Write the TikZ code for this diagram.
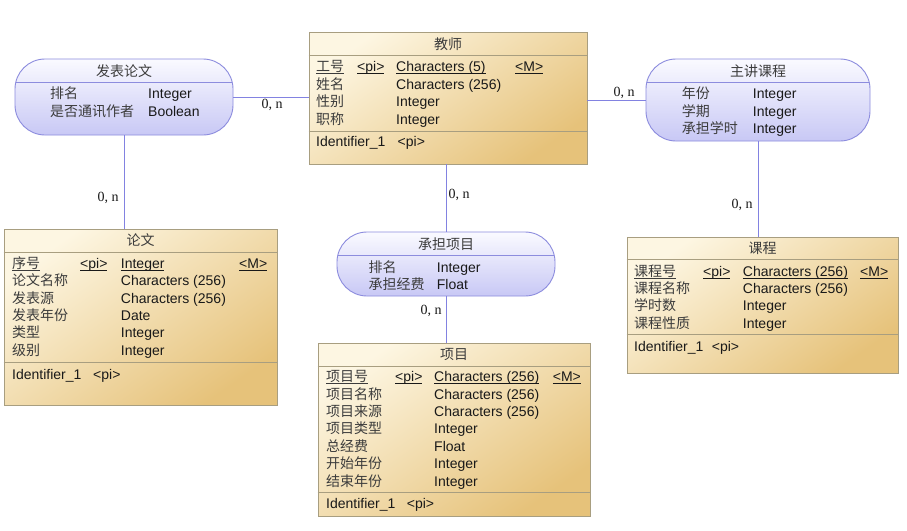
\documentclass[tikz,border=0pt]{standalone}
\usepackage{fontspec}
\setmainfont{Liberation Sans}
\newfontfamily\cjk{Noto Sans CJK SC}
\newfontfamily\serifnum{Liberation Serif}
\newcommand\fs{\fontsize{14}{17}\selectfont}
\newcommand\keyul[1]{\underline{\raisebox{0pt}[\height][0.3pt]{#1}}}
\definecolor{entA}{RGB}{253,246,226}
\definecolor{entB}{RGB}{230,194,122}
\definecolor{entLine}{RGB}{168,158,128}
\definecolor{relA}{RGB}{250,250,255}
\definecolor{relB}{RGB}{200,200,245}
\definecolor{relLine}{RGB}{140,140,222}
\definecolor{linkc}{RGB}{130,130,225}
\definecolor{txt}{RGB}{25,25,25}
\definecolor{cjktxt}{RGB}{60,60,60}
\tikzset{
  lt/.style={anchor=base west, inner sep=0pt, text=txt, font=\fs},
  cn/.style={anchor=base west, inner sep=0pt, text=cjktxt, font=\fs\cjk},
  ttl/.style={anchor=center, inner sep=0pt, text=cjktxt, font=\fs\cjk},
  entity/.style={rectangle, draw=entLine, line width=0.9pt, top color=entA, bottom color=entB, shading angle=35, inner sep=0pt},
  rel/.style={rectangle, rounded corners=30pt, draw=relLine, line width=0.9pt, top color=relA, bottom color=relB, inner sep=0pt},
  entsep/.style={draw=entLine, line width=0.9pt},
  relsep/.style={draw=relLine, line width=0.9pt},
  link/.style={draw=linkc, line width=0.9pt},
  card/.style={anchor=center, inner sep=0pt, text=txt, font=\fs\serifnum}
}
\begin{document}
\begin{tikzpicture}[x=1pt,y=-1pt]
\useasboundingbox (0,0) rectangle (907,530);
\fill[white] (0,0) rectangle (907,530);

% ---------- shapes ----------
\node[entity, minimum width=278pt, minimum height=132pt] (teacher) at (448,98) {};
\node[entity, minimum width=273pt, minimum height=176pt] (paper) at (140.5,317) {};
\node[entity, minimum width=272pt, minimum height=173pt] (project) at (454,429.5) {};
\node[entity, minimum width=271pt, minimum height=136pt] (course) at (762.5,305) {};
\node[rel, minimum width=218pt, minimum height=76pt] (fbl) at (124,97) {};
\node[rel, minimum width=224pt, minimum height=82pt] (zj) at (758,100) {};
\node[rel, minimum width=218pt, minimum height=64pt] (cd) at (446,264) {};

% ---------- connectors ----------
\draw[link] (fbl.east) -- (fbl.east -| teacher.west);
\draw[link] (teacher.east |- zj.west) -- (zj.west);
\draw[link] (fbl.south) -- (fbl.south |- paper.north);
\draw[link] (zj.south) -- (zj.south |- course.north);
\draw[link] (cd.north |- teacher.south) -- (cd.north);
\draw[link] (cd.south) -- (cd.south |- project.north);

\node[card] (c1) at (272,105) {0, n};
\node[card] (c2) at (624,93) {0, n};
\node[card] (c3) at (108,198) {0, n};
\node[card] (c4) at (459,195) {0, n};
\node[card] (c5) at (431,311) {0, n};
\node[card] (c6) at (742,205) {0, n};

% ---------- separators ----------
\draw[entsep] (teacher.west |- 0,55) -- (teacher.east |- 0,55);
\draw[entsep] (teacher.west |- 0,131) -- (teacher.east |- 0,131);
\draw[entsep] (paper.west |- 0,252) -- (paper.east |- 0,252);
\draw[entsep] (paper.west |- 0,362) -- (paper.east |- 0,362);
\draw[entsep] (project.west |- 0,366) -- (project.east |- 0,366);
\draw[entsep] (project.west |- 0,492) -- (project.east |- 0,492);
\draw[entsep] (course.west |- 0,259) -- (course.east |- 0,259);
\draw[entsep] (course.west |- 0,334) -- (course.east |- 0,334);
\draw[relsep] ([xshift=1pt]fbl.west |- 0,82) -- ([xshift=-1pt]fbl.east |- 0,82);
\draw[relsep] ([xshift=1pt]zj.west |- 0,82) -- ([xshift=-1pt]zj.east |- 0,82);
\draw[relsep] ([xshift=1pt]cd.west |- 0,255) -- ([xshift=-1pt]cd.east |- 0,255);

% ---------- 教师 ----------
\node[ttl] (t-title) at (448,44) {教师};
\node[cn] (t-k) at (316,71.5) {\keyul{工号}};
\node[lt] (t-kpi) at (357,71.5) {\keyul{<pi>}};
\node[lt] (t-kt) at (396,71.5) {\keyul{Characters (5)}};
\node[lt] (t-km) at (515,71.5) {\keyul{<M>}};
\foreach \y/\n/\t [count=\i] in {89/姓名/Characters (256), 106.5/性别/Integer, 124/职称/Integer}{
  \node[cn] (t-n\i) at (316,\y) {\n};
  \node[lt] (t-t\i) at (396,\y) {\t};
}
\node[lt] (t-id) at (316,146.5) {Identifier\_1};
\node[lt] (t-idpi) at (397.5,146.5) {<pi>};

% ---------- 论文 ----------
\node[ttl] (p-title) at (140.5,240.5) {论文};
\node[cn] (p-k) at (12,268.3) {\keyul{序号}};
\node[lt] (p-kpi) at (80,268.3) {\keyul{<pi>}};
\node[lt] (p-kt) at (120.7,268.3) {\keyul{Integer}};
\node[lt] (p-km) at (239,268.3) {\keyul{<M>}};
\foreach \y/\n/\t [count=\i] in {285.7/论文名称/Characters (256), 303.1/发表源/Characters (256), 320.5/发表年份/Date, 337.9/类型/Integer, 355.3/级别/Integer}{
  \node[cn] (p-n\i) at (12,\y) {\n};
  \node[lt] (p-t\i) at (120.7,\y) {\t};
}
\node[lt] (p-id) at (12,379) {Identifier\_1};
\node[lt] (p-idpi) at (93,379) {<pi>};

% ---------- 项目 ----------
\node[ttl] (j-title) at (454,354.5) {项目};
\node[cn] (j-k) at (326,381.7) {\keyul{项目号}};
\node[lt] (j-kpi) at (395,381.7) {\keyul{<pi>}};
\node[lt] (j-kt) at (434,381.7) {\keyul{Characters (256)}};
\node[lt] (j-km) at (552.7,381.7) {\keyul{<M>}};
\foreach \y/\n/\t [count=\i] in {399.1/项目名称/Characters (256), 416.5/项目来源/Characters (256), 433.9/项目类型/Integer, 451.3/总经费/Float, 468.7/开始年份/Integer, 486.1/结束年份/Integer}{
  \node[cn] (j-n\i) at (326,\y) {\n};
  \node[lt] (j-t\i) at (434,\y) {\t};
}
\node[lt] (j-id) at (326,508.3) {Identifier\_1};
\node[lt] (j-idpi) at (406.7,508.3) {<pi>};

% ---------- 课程 ----------
\node[ttl] (k-title) at (762.5,248) {课程};
\node[cn] (k-k) at (634,276.7) {\keyul{课程号}};
\node[lt] (k-kpi) at (703,276.7) {\keyul{<pi>}};
\node[lt] (k-kt) at (742.7,276.7) {\keyul{Characters (256)}};
\node[lt] (k-km) at (860,276.7) {\keyul{<M>}};
\foreach \y/\n/\t [count=\i] in {293.7/课程名称/Characters (256), 310.9/学时数/Integer, 328.1/课程性质/Integer}{
  \node[cn] (k-n\i) at (634,\y) {\n};
  \node[lt] (k-t\i) at (742.7,\y) {\t};
}
\node[lt] (k-id) at (634,351) {Identifier\_1};
\node[lt] (k-idpi) at (711.7,351) {<pi>};

% ---------- 发表论文 ----------
\node[ttl] (f-title) at (124,71) {发表论文};
\node[cn] (f-n1) at (50,98.3) {排名};
\node[lt] (f-t1) at (148,98.3) {Integer};
\node[cn] (f-n2) at (50,116.3) {是否通讯作者};
\node[lt] (f-t2) at (148,116.3) {Boolean};

% ---------- 主讲课程 ----------
\node[ttl] (z-title) at (758,71) {主讲课程};
\foreach \y/\n [count=\i] in {98.3/年份, 116/学期, 133.7/承担学时}{
  \node[cn] (z-n\i) at (681.7,\y) {\n};
  \node[lt] (z-t\i) at (752.7,\y) {Integer};
}

% ---------- 承担项目 ----------
\node[ttl] (d-title) at (446,244) {承担项目};
\node[cn] (d-n1) at (368.3,272.3) {排名};
\node[lt] (d-t1) at (436.7,272.3) {Integer};
\node[cn] (d-n2) at (368.3,289.3) {承担经费};
\node[lt] (d-t2) at (436.7,289.3) {Float};
\end{tikzpicture}
\end{document}
